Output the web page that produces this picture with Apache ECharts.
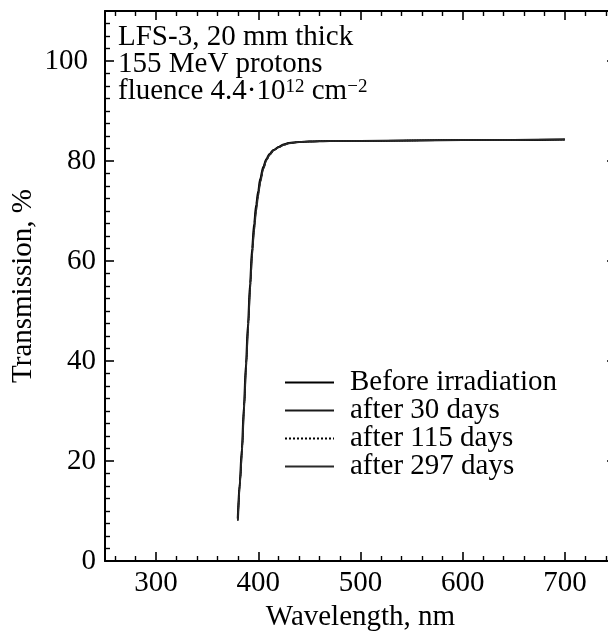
<!DOCTYPE html>
<html>
<head>
<meta charset="utf-8">
<script src="https://cdn.jsdelivr.net/npm/echarts@6/dist/echarts.min.js"></script>
<style>
html,body{margin:0;padding:0;background:#fff;}
#chart{width:608px;height:633px;}
</style>
</head>
<body>
<div id="chart"></div>
<script>
const wavelength = [380,382,384,386,388,390,392,394,396,398,400,402,405,408,411,415,420,425,430,440,450,470,500,550,600,650,700];
const beforeIrr  = [8.5,16.0,22.5,31.0,39.5,47.5,55.5,62.5,67.5,71.3,74.0,76.5,78.9,80.4,81.4,82.2,82.8,83.3,83.6,83.8,83.9,84.0,84.0,84.1,84.2,84.2,84.3];
const after30    = [8.3,15.6,22.0,30.5,39.0,47.0,55.0,62.0,67.0,70.9,73.7,76.2,78.7,80.3,81.3,82.2,82.8,83.3,83.6,83.8,83.9,84.0,84.0,84.1,84.2,84.2,84.3];
const after115   = [8.2,15.4,21.8,30.2,38.7,46.7,54.7,61.7,66.7,70.6,73.5,76.0,78.6,80.2,81.3,82.1,82.8,83.3,83.6,83.8,83.9,84.0,84.0,84.1,84.2,84.2,84.3];
const after297   = [8.0,15.0,21.2,29.6,38.0,46.0,54.0,61.0,66.0,70.0,73.0,75.7,78.4,80.1,81.2,82.1,82.7,83.2,83.5,83.8,83.9,84.0,84.0,84.1,84.2,84.2,84.3];
const seriesNames = ['Before irradiation','after 30 days','after 115 days','after 297 days'];
const xTickLabels = [300,400,500,600,700];
const yTickLabels = [0,20,40,60,80,100];

const FONT = 'Liberation Serif';
const FS = 29;
const chart = echarts.init(document.getElementById('chart'), null, {renderer:'canvas'});

const axisCommon = {
  axisLine:{show:true, onZero:false, lineStyle:{color:'#000', width:2}},
  axisTick:{show:true, inside:true, length:9, lineStyle:{color:'#000', width:1.6}},
  minorTick:{show:true, length:5, lineStyle:{color:'#000', width:1.4}},
  splitLine:{show:false},
  minorSplitLine:{show:false}
};

function xAxisDef(pos, showLabel){
  return Object.assign({}, axisCommon, {
    type:'value', position:pos, min:250, max:750, splitNumber:5,
    minorTick:Object.assign({}, axisCommon.minorTick, {splitNumber:5}),
    axisLabel:{show:showLabel, margin:8, fontFamily:FONT, fontSize:FS, color:'#000',
      formatter:function(v){ return xTickLabels.indexOf(v) >= 0 ? String(v) : ''; }},
    name: showLabel ? 'Wavelength, nm' : '',
    nameLocation:'middle', nameGap:42, nameMoveOverlap:false,
    nameTextStyle:{fontFamily:FONT, fontSize:FS, color:'#000'}
  });
}
function yAxisDef(pos, showLabel){
  return Object.assign({}, axisCommon, {
    type:'value', position:pos, min:0, max:110, interval:20,
    minorTick:Object.assign({}, axisCommon.minorTick, {splitNumber:8}),
    axisLabel:{show:showLabel, margin:9, fontFamily:FONT, fontSize:FS, color:'#000',
      formatter:function(v){
        if (yTickLabels.indexOf(v) < 0) return '';
        return v === 100 ? '{h|' + v + '}' : String(v);
      },
      rich:{h:{fontFamily:FONT, fontSize:FS, color:'#000', padding:[0,8,0,0]}}
    },
    name: showLabel ? 'Transmission, %' : '',
    nameLocation:'middle', nameGap:67, nameMoveOverlap:false,
    nameTextStyle:{fontFamily:FONT, fontSize:FS, color:'#000'}
  });
}

const seriesValues = [beforeIrr, after30, after115, after297];
const lineStyles = [
  {color:'#000', width:2.2, type:'solid'},
  {color:'#1a1a1a', width:1.5, type:'solid'},
  {color:'#000', width:1.3, type:'dotted'},
  {color:'#2a2a2a', width:1.5, type:'solid'}
];

const option = {
  animation:false,
  backgroundColor:'#fff',
  textStyle:{fontFamily:FONT},
  title:{
    left:118, top:24, padding:0,
    text:'{n|LFS-3, 20 mm thick}\n{n|155 MeV protons}\n{n|fluence 4.4·10}{s|12}{n| cm}{s|−2}',
    textStyle:{
      fontFamily:FONT, fontWeight:'normal', fontSize:FS, color:'#000', lineHeight:27,
      rich:{
        n:{fontFamily:FONT, fontSize:FS, lineHeight:27, color:'#000', fontWeight:'normal'},
        s:{fontFamily:FONT, fontSize:19, lineHeight:24, verticalAlign:'top', color:'#000', fontWeight:'normal'}
      }
    }
  },
  legend:{
    orient:'vertical', left:284, top:368, padding:0,
    itemWidth:49, itemHeight:14, itemGap:-1,
    data:seriesNames,
    itemStyle:{opacity:0, borderWidth:0},
    textStyle:{fontFamily:FONT, fontSize:FS, color:'#000', lineHeight:27.8, padding:[0,0,0,11]}
  },
  grid:{left:105, width:511, top:11, height:550, containLabel:false, outerBoundsMode:'none'},
  xAxis:[xAxisDef('bottom', true), xAxisDef('top', false)],
  yAxis:[yAxisDef('left', true), yAxisDef('right', false)],
  series: seriesNames.map(function(name, k){
    return {
      name:name, type:'line', xAxisIndex:0, yAxisIndex:0,
      symbol:'none', smooth:0.3, smoothMonotone:'x',
      lineStyle:lineStyles[k], itemStyle:{color:lineStyles[k].color},
      data: wavelength.map(function(w, i){ return [w, seriesValues[k][i]]; })
    };
  })
};
chart.setOption(option);
</script>
</body>
</html>
